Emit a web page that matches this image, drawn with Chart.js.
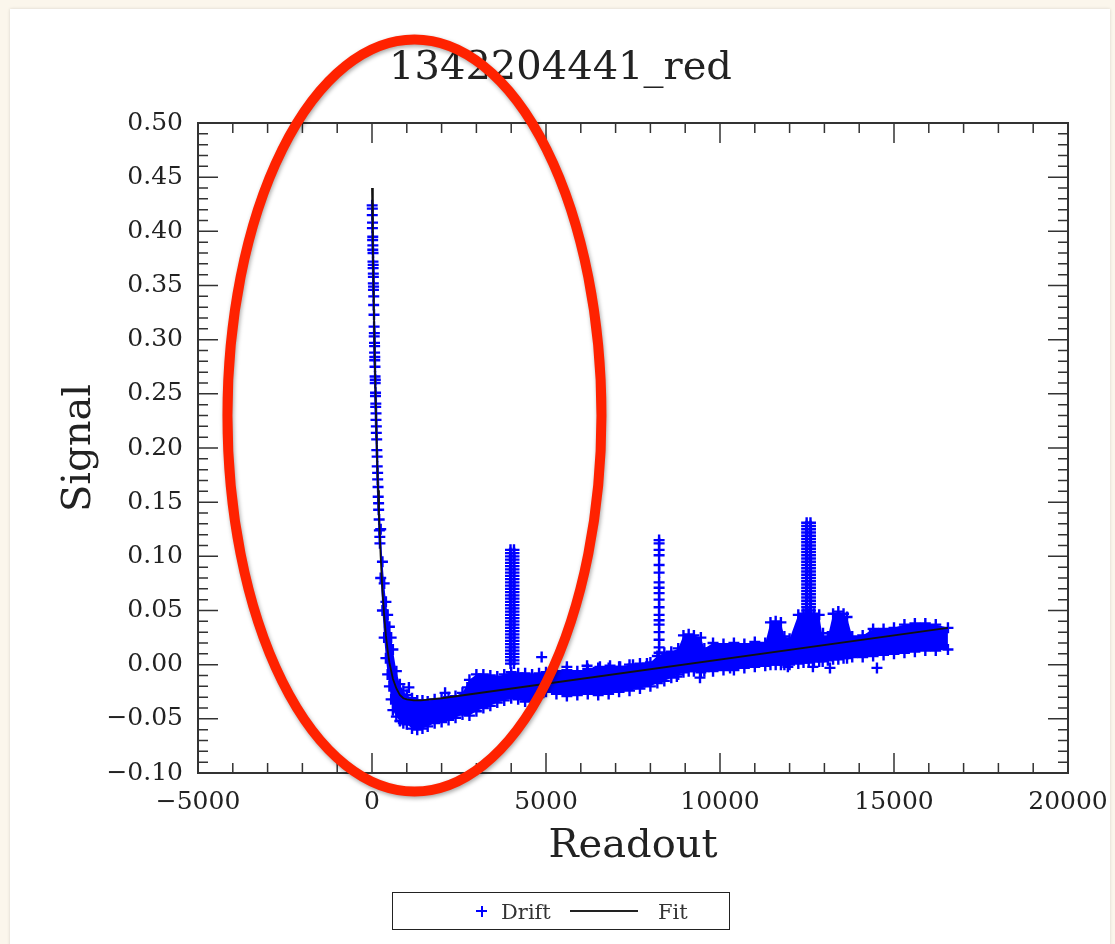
<!DOCTYPE html>
<html>
<head>
<meta charset="utf-8">
<script src="https://cdn.jsdelivr.net/npm/chart.js@4"></script>
<style>
html, body { margin: 0; padding: 0; }
body { width: 1115px; height: 944px; background: #fbf6ec; position: relative; overflow: hidden; font-family: 'DejaVu Serif', serif; }
#panel { position: absolute; left: 10px; top: 9px; width: 1100px; height: 940px; background: #fff; box-shadow: 0 0 3px rgba(0,0,0,0.15); }
#wrap { position: absolute; left: 0; top: 0; width: 1115px; height: 944px; }
#legend { position: absolute; left: 392px; top: 892px; width: 338px; height: 38px; box-sizing: border-box; border: 1.5px solid #222; }
.lg { position: absolute; }
.txt { font-size: 21px; line-height: 24px; color: #333; top: 7px; }
</style>
</head>
<body>
<div id="panel"></div>
<div id="wrap"><canvas id="driftChart"></canvas></div>
<div id="legend">
  <div class="lg" style="left:83px;top:17px;width:11px;height:2px;background:#0000ff"></div>
  <div class="lg" style="left:87.5px;top:12.5px;width:2px;height:11px;background:#0000ff"></div>
  <span class="lg txt" style="left:108px">Drift</span>
  <div class="lg" style="left:177px;top:17px;width:68px;height:2px;background:#222"></div>
  <span class="lg txt" style="left:265px">Fit</span>
</div>
<script>
// ejes
const xTicks = [-5000, 0, 5000, 10000, 15000, 20000];
const yTicks = [-0.10, -0.05, 0.00, 0.05, 0.10, 0.15, 0.20, 0.25, 0.30, 0.35, 0.40, 0.45, 0.50];

// pico inicial (readout ~0)
const spike0X = [5,10,8,15,12,22,18,25,22,30,28,35,32,38,40,38,45,42,50,48,58,60,68,64,72,75,74,80,78,86,88,95,92,102,100,110,106,116,115,125,124,135,138,148,150,162,163,174,178,190,191,206,212,225,228];
const spike0Y = [0.424,0.421,0.415,0.408,0.403,0.395,0.392,0.387,0.383,0.380,0.372,0.369,0.366,0.361,0.358,0.352,0.349,0.346,0.340,0.332,0.323,0.312,0.306,0.303,0.297,0.294,0.288,0.284,0.281,0.275,0.266,0.263,0.260,0.251,0.248,0.241,0.238,0.232,0.226,0.220,0.214,0.208,0.198,0.192,0.183,0.177,0.171,0.164,0.155,0.149,0.143,0.134,0.124,0.118,0.112];

// banda densa de puntos: borde superior e inferior por columna
const bandX = [250,300,350,400,450,500,550,600,700,800,900,1000,1150,1300,1450,1600,1800,2000,2200,2400,2600,2800,3000,3200,3400,3600,3800,4000,4200,4400,4600,4800,5000,5300,5600,5900,6200,6500,6800,7100,7400,7700,
    8000,8200,8400,8600,8800,8950,9100,9250,9450,9550,9800,10100,10400,10700,11000,11300,11450,11600,11750,11850,12000,12250,12400,12550,12700,12850,12950,13100,13250,13400,13550,13650,13800,14100,14400,14700,15000,15300,15600,15900,16200,16550];
const bandHigh = [0.125,0.095,0.075,0.058,0.046,0.035,0.025,0.014,-0.006,-0.018,
    -0.024,-0.028,-0.031,-0.033,-0.033,-0.034,-0.032,-0.032,-0.030,-0.029,
    -0.026,-0.014,-0.009,-0.009,-0.010,-0.011,-0.009,-0.007,-0.008,-0.008,
    -0.009,-0.008,-0.007,-0.006,-0.005,-0.006,-0.004,-0.003,-0.003,-0.002,
    0.000,0.001,
    0.002,0.008,0.011,0.012,0.015,0.027,0.028,0.027,0.025,0.015,0.020,0.019,0.020,0.019,0.021,0.020,0.039,0.040,0.039,0.026,0.024,0.046,0.047,0.047,0.047,0.046,0.025,0.026,0.047,0.049,0.047,0.044,0.026,0.027,0.033,0.033,0.034,0.037,0.038,0.038,0.037,0.034];
const bandLow = [0.080,0.050,0.025,0.006,-0.009,-0.020,-0.032,-0.042,-0.048,-0.052,
    -0.054,-0.055,-0.059,-0.060,-0.059,-0.057,-0.054,-0.053,-0.051,-0.049,
    -0.046,-0.047,-0.043,-0.040,-0.038,-0.035,-0.033,-0.031,-0.032,-0.034,
    -0.033,-0.030,-0.025,-0.027,-0.029,-0.028,-0.027,-0.028,-0.027,-0.025,
    -0.024,-0.022,
    -0.020,-0.017,-0.015,-0.012,-0.009,-0.007,-0.006,-0.006,-0.007,-0.006,-0.006,-0.005,-0.005,-0.003,-0.002,-0.001,0.000,0.000,0.000,0.000,0.000,0.001,0.002,0.002,0.003,0.003,0.003,0.004,0.005,0.005,0.006,0.006,0.007,0.007,0.008,0.009,0.010,0.011,0.012,0.013,0.013,0.014];

// picos
const spike4000X = [3980, 4080];
const spike4000Y = [0.106,0.103,0.100,0.097,0.094,0.091,0.088,0.085,0.082,0.079,0.076,0.073,0.070,0.067,0.064,0.061,0.058,0.055,0.052,0.049,0.046,0.043,0.040,0.037,0.034,0.031,0.028,0.025,0.022,0.019,0.016,0.013,0.010,0.007,0.004,0.001];
const spike8200X = [8250];
const spike8200Y = [0.115,0.112,0.106,0.101,0.092,0.085,0.076,0.071,0.066,0.060,0.053,0.046,0.041,0.037,0.030,0.023,0.016,0.011];
const spike12500X = [12490, 12600];
const spike12500Y = [0.131,0.128,0.125,0.122,0.119,0.116,0.113,0.110,0.107,0.104,0.101,0.098,0.095,0.092,0.089,0.086,0.083,0.080,0.077,0.074,0.071,0.068,0.065,0.062,0.059,0.056,0.053,0.050,0.047];

// puntos sueltos
const outlierX = [1060,2100,2740,4875,5600,6180,6550,6840,7130,7500,7900,8760,9425,10290,11950,12670,13160,14510,12960,14310];
const outlierY = [-0.021,-0.026,-0.021,0.007,-0.002,-0.001,-0.002,-0.001,-0.002,0.000,0.001,-0.011,-0.012,-0.003,-0.002,-0.002,-0.003,-0.003,0.029,0.027];

// ajuste
const fitX = [0,25,50,75,100,125,150,175,200,250,300,350,400,450,500,600,700,800,900,1000,1200,1400,2000,16550];
const fitY = [0.440,0.384,0.334,0.290,0.252,0.218,0.187,0.161,0.138,0.099,0.068,0.045,0.027,0.013,0.002,-0.013,-0.022,-0.028,-0.031,-0.032,-0.033,-0.033,-0.031,0.034];

const BLUE = '#0000ff';
const INK = '#222';

function buildDrift() {
    const pts = [];
    spike0X.forEach((x, i) => pts.push({x: x, y: spike0Y[i]}));
    bandX.forEach((x, i) => {
        pts.push({x: x, y: bandHigh[i]});
        pts.push({x: x, y: bandLow[i]});
    });
    spike4000Y.forEach(y => spike4000X.forEach(x => pts.push({x: x, y: y})));
    spike8200Y.forEach(y => spike8200X.forEach(x => pts.push({x: x, y: y})));
    spike12500Y.forEach(y => spike12500X.forEach(x => pts.push({x: x, y: y})));
    outlierX.forEach((x, i) => pts.push({x: x, y: outlierY[i]}));
    return pts;
}

function minus(s) { return s.replace('-', '\u2212'); }

// marco con marcas hacia dentro en los cuatro lados
const frameTicks = {
    id: 'frameTicks',
    afterDatasetsDraw(chart) {
        const ctx = chart.ctx;
        const a = chart.chartArea;
        const sx = chart.scales.x, sy = chart.scales.y;
        ctx.save();
        ctx.strokeStyle = '#333';
        ctx.lineWidth = 1.5;
        ctx.beginPath();
        for (let i = 0; i <= 25; i++) {
            const v = -5000 + i * 1000;
            const p = sx.getPixelForValue(v);
            const len = v % 5000 === 0 ? 20 : 10;
            ctx.moveTo(p, a.bottom); ctx.lineTo(p, a.bottom - len);
            ctx.moveTo(p, a.top); ctx.lineTo(p, a.top + len);
        }
        for (let i = -10; i <= 50; i++) {
            const p = sy.getPixelForValue(i / 100);
            const len = i % 5 === 0 ? 20 : 10;
            ctx.moveTo(a.left, p); ctx.lineTo(a.left + len, p);
            ctx.moveTo(a.right, p); ctx.lineTo(a.right - len, p);
        }
        ctx.stroke();
        ctx.lineWidth = 2;
        ctx.strokeRect(a.left, a.top, a.right - a.left, a.bottom - a.top);
        ctx.restore();
    }
};

// elipse roja de resaltado
const markEllipse = {
    id: 'markEllipse',
    afterDraw(chart) {
        const ctx = chart.ctx;
        const cx = chart.scales.x.getPixelForValue(1220);
        const cy = chart.scales.y.getPixelForValue(0.23);
        ctx.save();
        ctx.shadowColor = 'rgba(0,0,0,0.35)';
        ctx.shadowBlur = 4;
        ctx.shadowOffsetX = 1;
        ctx.shadowOffsetY = 2;
        ctx.strokeStyle = '#ff2200';
        ctx.lineWidth = 10;
        ctx.beginPath();
        ctx.ellipse(cx, cy, 187, 376, 0, 0, Math.PI * 2);
        ctx.stroke();
        ctx.restore();
    }
};

function renderDriftChart() {
    const ctx = document.getElementById('driftChart').getContext('2d');
    new Chart(ctx, {
        type: 'line',
        data: {
            datasets: [
                {
                    label: 'Fit',
                    data: fitX.map((x, i) => ({x: x, y: fitY[i]})),
                    borderColor: '#111',
                    borderWidth: 1.8,
                    pointRadius: 0,
                    fill: false,
                    tension: 0,
                    order: 0
                },
                {
                    label: 'Drift',
                    data: buildDrift(),
                    showLine: false,
                    pointStyle: 'cross',
                    pointRadius: 5.5,
                    borderColor: BLUE,
                    backgroundColor: BLUE,
                    borderWidth: 2.4,
                    order: 1
                },
                {
                    label: 'bandTop',
                    data: bandX.map((x, i) => ({x: x, y: bandHigh[i]})),
                    borderWidth: 0,
                    borderColor: 'rgba(0,0,0,0)',
                    pointRadius: 0,
                    backgroundColor: BLUE,
                    fill: '+1',
                    order: 2
                },
                {
                    label: 'bandBottom',
                    data: bandX.map((x, i) => ({x: x, y: bandLow[i]})),
                    borderWidth: 0,
                    borderColor: 'rgba(0,0,0,0)',
                    pointRadius: 0,
                    fill: false,
                    order: 3
                }
            ]
        },
        options: {
            responsive: true,
            maintainAspectRatio: false,
            animation: false,
            events: [],
            layout: { padding: { left: 6, right: 0, top: 0, bottom: 50 } },
            plugins: {
                legend: { display: false },
                tooltip: { enabled: false },
                title: {
                    display: true,
                    text: '1342204441_red',
                    color: INK,
                    font: { family: 'DejaVu Serif', size: 40, weight: 'normal' },
                    padding: { top: 45, bottom: 30 }
                }
            },
            scales: {
                x: {
                    type: 'linear',
                    min: -5000,
                    max: 20000,
                    afterFit: (scale) => { scale.height = 121; scale.paddingLeft = 0; scale.paddingRight = 0; },
                    afterBuildTicks: (scale) => { scale.ticks = xTicks.map(v => ({value: v})); },
                    grid: { display: false, drawTicks: false },
                    border: { display: false },
                    ticks: {
                        autoSkip: false,
                        maxRotation: 0,
                        padding: 14,
                        color: INK,
                        font: { family: 'DejaVu Serif', size: 25 },
                        callback: (v) => minus(String(v))
                    },
                    title: {
                        display: true,
                        text: 'Readout',
                        color: INK,
                        font: { family: 'DejaVu Serif', size: 40 },
                        padding: { top: 0, bottom: 23 }
                    }
                },
                y: {
                    type: 'linear',
                    min: -0.10,
                    max: 0.50,
                    afterFit: (scale) => { scale.width = 192; scale.paddingTop = 0; scale.paddingBottom = 0; },
                    afterBuildTicks: (scale) => { scale.ticks = yTicks.map(v => ({value: v})); },
                    grid: { display: false, drawTicks: false },
                    border: { display: false },
                    ticks: {
                        autoSkip: false,
                        padding: 15,
                        color: INK,
                        font: { family: 'DejaVu Serif', size: 25 },
                        callback: (v) => minus(v.toFixed(2))
                    },
                    title: {
                        display: true,
                        text: 'Signal',
                        color: INK,
                        font: { family: 'DejaVu Serif', size: 40 },
                        padding: { top: 50, bottom: 0 }
                    }
                },
                yRight: {
                    type: 'linear',
                    position: 'right',
                    display: true,
                    min: -0.10,
                    max: 0.50,
                    afterFit: (scale) => { scale.width = 47; scale.paddingTop = 0; scale.paddingBottom = 0; },
                    grid: { display: false, drawTicks: false },
                    border: { display: false },
                    ticks: { display: false }
                }
            }
        },
        plugins: [frameTicks, markEllipse]
    });
}

renderDriftChart();
</script>
</body>
</html>
